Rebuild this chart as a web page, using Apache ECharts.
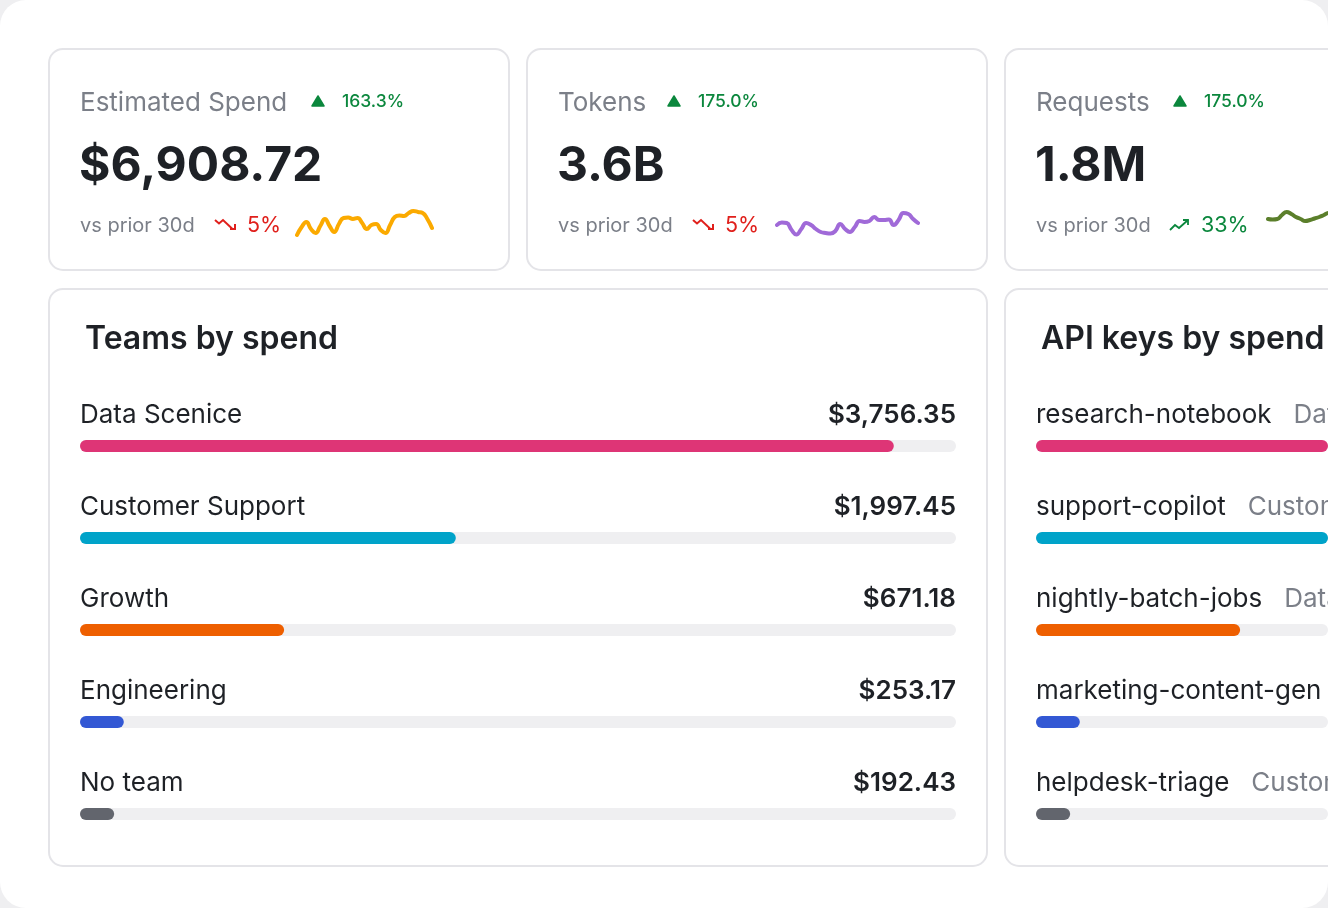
<!DOCTYPE html>
<html>
<head>
<meta charset="utf-8">
<title>Spend overview</title>
<script src="https://cdn.jsdelivr.net/npm/echarts@6/dist/echarts.min.js"></script>
<style>
  html, body { margin: 0; padding: 0; background: #efeff1; }
  #main { width: 1328px; height: 908px; }
</style>
</head>
<body>
<div id="main"></div>
<script>
// KPI cards
var kpiTitles = ['Estimated Spend', 'Tokens', 'Requests'];
var kpiChange = ['163.3%', '175.0%', '175.0%'];
var kpiValues = ['$6,908.72', '3.6B', '1.8M'];
var kpiPrior = ['5%', '5%', '33%'];
var kpiPriorUp = [false, false, true];

// daily sparkline values (30 days)
var sparkSpend = [5, 13, 18, 11, 7, 14, 21, 14, 8, 16, 22, 22.5, 21, 22, 17, 11, 15, 16, 10, 7, 15, 23, 24.5, 24, 27, 29, 28, 27, 21, 12];
var sparkTokens = [15, 17.5, 17, 10, 5.5, 11, 17, 15, 11, 8, 7, 6.5, 9, 16, 11, 8, 13, 19, 18, 19, 23, 20, 20, 20.5, 15, 20, 27, 26, 21, 17];
var sparkRequests = [21, 20.5, 21, 25, 28, 26, 23, 21, 19, 20, 21.5, 23, 25, 27, 26, 22, 20, 21, 24, 26, 25, 22, 21, 23, 25, 27, 26, 24, 25, 27];

// teams by spend
var teamNames = ['Data Scenice', 'Customer Support', 'Growth', 'Engineering', 'No team'];
var teamSpend = ['$3,756.35', '$1,997.45', '$671.18', '$253.17', '$192.43'];
var teamShare = [92.9, 42.9, 23.3, 5.0, 3.9];

// API keys by spend
var keyNames = ['research-notebook', 'support-copilot', 'nightly-batch-jobs', 'marketing-content-gen', 'helpdesk-triage'];
var keyTeams = ['Data Scenice', 'Customer Support', 'Data Scenice', 'Growth', 'Customer Support'];
var keyShare = [92.9, 42.9, 23.3, 5.0, 3.9];

var barColors = ['#de3576', '#00a3c9', '#ee5f00', '#3358d4', '#62656d'];
var sparkColors = ['#fbaa00', '#a06ad8', '#5b7f2b'];

var DARK = '#1e2126', GRAY = '#7b7f88', GREEN = '#0b873d', RED = '#e0201c', BORDER = '#e4e4e8';
var FONT = 'Inter, "Noto Sans", sans-serif';

var chart = echarts.init(document.getElementById('main'));

var cardX = [49, 527, 1005];
var graphics = [
  { type: 'rect', z: -10, shape: { x: 0, y: 0, width: 1328, height: 908, r: 26 }, style: { fill: '#ffffff' } }
];

// card frames
for (var c = 0; c < 3; c++) {
  graphics.push({ type: 'rect', z: -5, shape: { x: cardX[c], y: 49, width: 460, height: 221, r: 14 },
    style: { fill: '#fff', stroke: BORDER, lineWidth: 2 } });
}
graphics.push({ type: 'rect', z: -5, shape: { x: 49, y: 289, width: 938, height: 577, r: 14 }, style: { fill: '#fff', stroke: BORDER, lineWidth: 2 } });
graphics.push({ type: 'rect', z: -5, shape: { x: 1005, y: 289, width: 938, height: 577, r: 14 }, style: { fill: '#fff', stroke: BORDER, lineWidth: 2 } });

// kpi texts
var triX = [312, 668, 1174];
var pctX = [342, 698, 1204];
var arrowX = [214, 692, 1170];
var priorX = [247, 725, 1201];
for (var i = 0; i < 3; i++) {
  var x0 = cardX[i] + 31;
  graphics.push({ type: 'text', x: x0, y: 103, style: { text: kpiTitles[i], font: '400 26px ' + FONT, fill: GRAY, verticalAlign: 'middle' } });
  graphics.push({ type: 'polygon', shape: { points: [[triX[i], 106], [triX[i] + 6, 96], [triX[i] + 12, 106]] }, style: { fill: GREEN, stroke: GREEN, lineWidth: 1.5, lineJoin: 'round' } });
  graphics.push({ type: 'text', x: pctX[i], y: 102, style: { text: kpiChange[i], font: '500 17.5px ' + FONT, fill: GREEN, verticalAlign: 'middle' } });
  graphics.push({ type: 'text', x: x0 - 1, y: 167, style: { text: kpiValues[i], font: '700 48px ' + FONT, fill: DARK, verticalAlign: 'middle' } });
  graphics.push({ type: 'text', x: x0, y: 226, style: { text: 'vs prior 30d', font: '400 20px ' + FONT, fill: GRAY, verticalAlign: 'middle' } });
  var col = kpiPriorUp[i] ? GREEN : RED;
  var ax = arrowX[i];
  if (kpiPriorUp[i]) {
    graphics.push({ type: 'polyline', shape: { points: [[ax, 230], [ax + 5, 225], [ax + 9, 228], [ax + 18, 220]] }, style: { stroke: col, lineWidth: 1.8, fill: null } });
    graphics.push({ type: 'polyline', shape: { points: [[ax + 13, 220], [ax + 18, 220], [ax + 18, 225]] }, style: { stroke: col, lineWidth: 1.8, fill: null } });
  } else {
    graphics.push({ type: 'polyline', shape: { points: [[ax + 1, 220], [ax + 5, 223.5], [ax + 9, 220], [ax + 18, 228.5]] }, style: { stroke: col, lineWidth: 2, fill: null } });
    graphics.push({ type: 'polyline', shape: { points: [[ax + 16, 229], [ax + 21, 229], [ax + 21, 224]] }, style: { stroke: col, lineWidth: 2, fill: null } });
  }
  graphics.push({ type: 'text', x: priorX[i], y: 226, style: { text: kpiPrior[i], font: '400 21.5px ' + FONT, fill: col, verticalAlign: 'middle' } });
}

// section titles
graphics.push({ type: 'text', x: 85, y: 339, style: { text: 'Teams by spend', font: '600 32px ' + FONT, fill: DARK, verticalAlign: 'middle' } });
graphics.push({ type: 'text', x: 1041, y: 339, style: { text: 'API keys by spend', font: '600 32px ' + FONT, fill: DARK, verticalAlign: 'middle' } });

// grids: 0-2 sparklines, 3 teams, 4 api keys (right card runs past the page edge, so its axis is cut at the edge)
var PX_PER_DAY = 4.66;
var apiVisible = 1328 - 1036;
var sparkVisible = 1328 - 1268;
var grids = [
  { left: 297, top: 208, width: 135, height: 32 },
  { left: 777, top: 208, width: 141, height: 32 },
  { left: 1268, top: 208, width: sparkVisible, height: 32 },
  { left: 80, top: 400, width: 876, height: 460 },
  { left: 1036, top: 400, width: apiVisible, height: 460 }
];

var sparkData = [sparkSpend, sparkTokens, sparkRequests];
var xAxes = [], yAxes = [], series = [];
for (var s = 0; s < 3; s++) {
  var xmax = s === 2 ? sparkVisible / PX_PER_DAY : sparkData[s].length - 1;
  xAxes.push({ type: 'value', gridIndex: s, show: false, min: 0, max: xmax });
  yAxes.push({ type: 'value', gridIndex: s, show: false, min: 0, max: 32 });
  series.push({
    type: 'line', xAxisIndex: s, yAxisIndex: s, smooth: 0.5, showSymbol: false, silent: true, clip: true,
    data: sparkData[s].map(function (v, k) { return [k, v]; }),
    lineStyle: { color: sparkColors[s], width: 4, cap: 'round', join: 'round' }
  });
}

for (var g = 3; g < 5; g++) {
  xAxes.push({ type: 'value', gridIndex: g, show: false, min: 0, max: g === 3 ? 100 : 100 * apiVisible / 876 });
  yAxes.push({ type: 'category', gridIndex: g, show: false, inverse: true, data: g === 3 ? teamNames : keyNames });
}

// track bars (carry the value label)
series.push({
  type: 'bar', xAxisIndex: 3, yAxisIndex: 3, barWidth: 12, silent: true,
  data: teamNames.map(function () { return 100; }),
  itemStyle: { color: '#efeff1', borderRadius: 6 },
  label: {
    show: true, position: ['100%', -25], align: 'right', verticalAlign: 'middle',
    fontFamily: FONT, fontSize: 26, fontWeight: 600, color: DARK,
    formatter: function (p) { return teamSpend[p.dataIndex]; }
  }
});
series.push({
  type: 'bar', xAxisIndex: 3, yAxisIndex: 3, barWidth: 12, barGap: '-100%', silent: true,
  data: teamShare.map(function (v, k) { return { value: v, itemStyle: { color: barColors[k] } }; }),
  itemStyle: { borderRadius: 6 },
  label: {
    show: true, position: [0, -25], align: 'left', verticalAlign: 'middle',
    fontFamily: FONT, fontSize: 26, color: DARK,
    formatter: function (p) { return teamNames[p.dataIndex]; }
  }
});
series.push({
  type: 'bar', xAxisIndex: 4, yAxisIndex: 4, barWidth: 12, silent: true, clip: true,
  data: keyNames.map(function () { return 100; }),
  itemStyle: { color: '#efeff1', borderRadius: 6 }
});
series.push({
  type: 'bar', xAxisIndex: 4, yAxisIndex: 4, barWidth: 12, barGap: '-100%', silent: true, clip: true,
  data: keyShare.map(function (v, k) { return { value: v, itemStyle: { color: barColors[k] } }; }),
  itemStyle: { borderRadius: 6 },
  label: {
    show: true, position: [0, -25], align: 'left', verticalAlign: 'middle',
    formatter: function (p) { return '{n|' + keyNames[p.dataIndex] + '}{t|' + keyTeams[p.dataIndex] + '}'; },
    rich: {
      n: { fontFamily: FONT, fontSize: 26, color: DARK },
      t: { fontFamily: FONT, fontSize: 26, color: GRAY, padding: [0, 0, 0, 22] }
    }
  }
});

chart.setOption({
  backgroundColor: '#efeff1',
  animation: false,
  grid: grids,
  xAxis: xAxes,
  yAxis: yAxes,
  series: series,
  graphic: graphics
});
</script>
</body>
</html>
